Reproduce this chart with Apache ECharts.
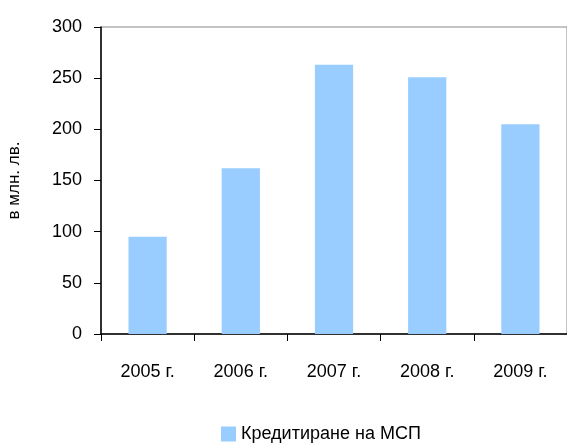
<!DOCTYPE html>
<html>
<head>
<meta charset="utf-8">
<script src="https://cdn.jsdelivr.net/npm/echarts@6/dist/echarts.min.js"></script>
<style>
  html, body { margin: 0; padding: 0; background: #fff; }
  #chart { width: 567px; height: 445px; }
</style>
</head>
<body>
<div id="chart"></div>
<script>
const categories = ['2005 г.', '2006 г.', '2007 г.', '2008 г.', '2009 г.'];
const values = [95, 162, 263, 251, 205];
const seriesName = 'Кредитиране на МСП';
const axisTitle = 'в млн. лв.';

const myChart = echarts.init(document.getElementById('chart'));
const font = 'Liberation Sans, Arial, sans-serif';

const option = {
  animation: false,
  textStyle: { fontFamily: font },
  grid: {
    left: 101,
    top: 27,
    right: 0,
    bottom: 111,
    outerBoundsMode: 'none',
    containLabel: false,
    show: true,
    borderColor: '#888',
    borderWidth: 1
  },
  legend: {
    bottom: -3,
    left: 216,
    itemWidth: 15,
    itemHeight: 15,
    itemGap: 7,
    icon: 'rect',
    textStyle: { fontSize: 18, color: '#000', fontFamily: font },
    data: [seriesName]
  },
  xAxis: {
    type: 'category',
    data: categories,
    axisLine: { lineStyle: { color: '#000', width: 1.5 } },
    axisTick: { show: true, length: 7, lineStyle: { color: '#000' } },
    axisLabel: { color: '#000', fontSize: 18, margin: 29, fontFamily: font },
    splitLine: { show: false }
  },
  yAxis: {
    type: 'value',
    min: 0,
    max: 300,
    interval: 50,
    name: axisTitle,
    nameLocation: 'middle',
    nameGap: 78,
    nameTextStyle: { fontSize: 17, color: '#000', fontFamily: font },
    axisLine: { show: true, lineStyle: { color: '#000', width: 1.5 } },
    axisTick: { show: true, length: 7, lineStyle: { color: '#000' } },
    axisLabel: { color: '#000', fontSize: 18, margin: 19, fontFamily: font },
    splitLine: { show: false }
  },
  series: [
    {
      name: seriesName,
      type: 'bar',
      data: values,
      barWidth: '41%',
      itemStyle: { color: '#99ccff' }
    }
  ]
};

myChart.setOption(option);
</script>
</body>
</html>
